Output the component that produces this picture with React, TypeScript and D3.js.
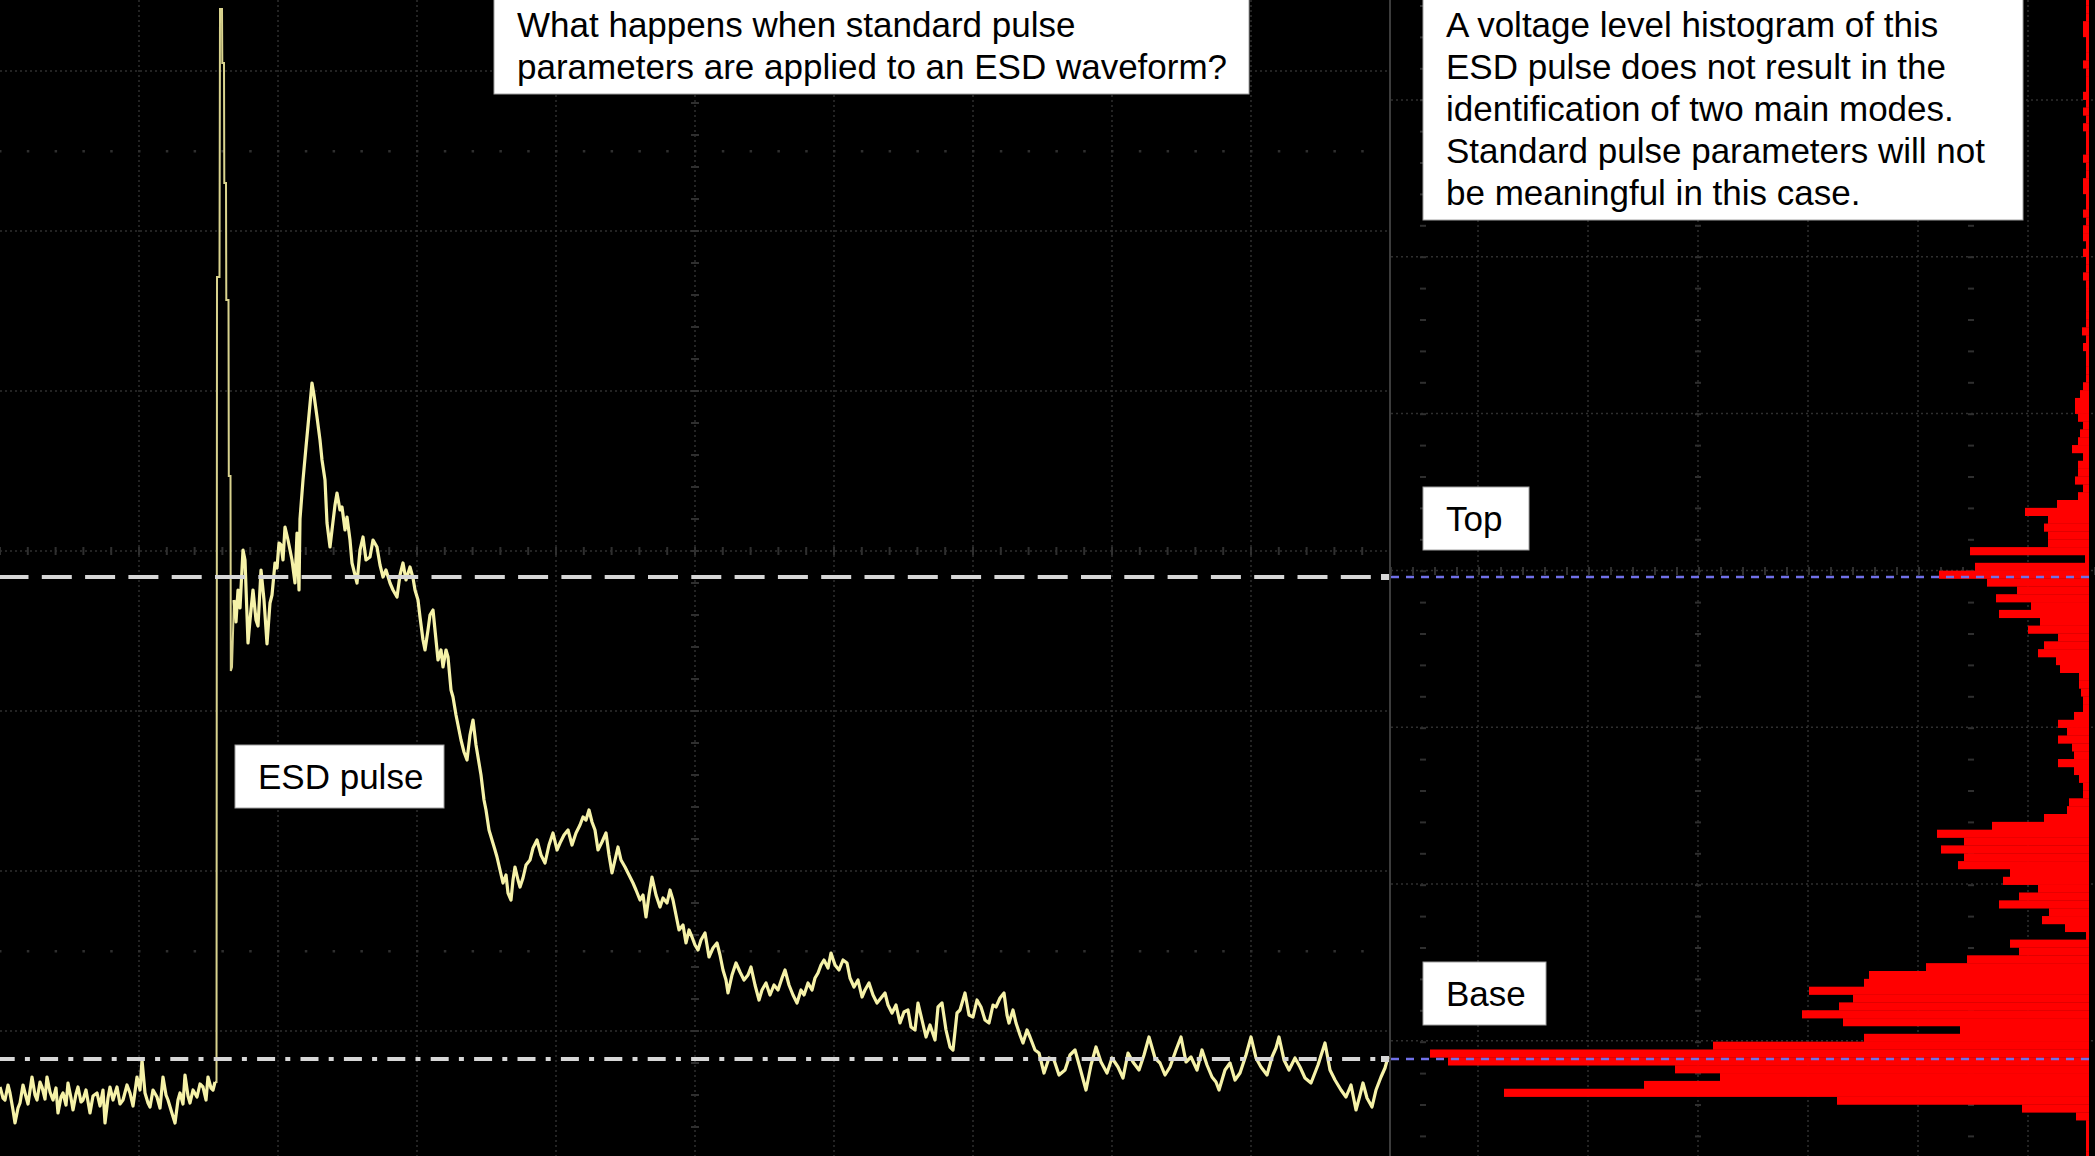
import React from 'react';
import * as d3 from 'd3';

const W = 2095;
const H = 1156;

// Trace: [time (ns), level (V, relative to base)]
const preTrigger: [number, number][] = [
  [0, -2.8], [0.3, -3.9], [0.5, -4.1], [0.8, -2.6], [1.0, -3.4], [1.3, -5.1], [1.5, -6.4], [1.8, -4.9],
  [2.0, -4.4], [2.3, -2.6], [2.5, -3.4], [2.8, -4.5], [3.2, -1.8], [3.5, -3.6], [3.7, -4.1], [4.0, -2.3],
  [4.2, -2.8], [4.5, -4.0], [4.7, -1.8], [5.0, -3.3], [5.3, -4.1], [5.6, -2.9], [5.8, -5.4], [6.1, -3.8],
  [6.3, -3.4], [6.6, -4.6], [6.8, -2.4], [7.1, -3.9], [7.3, -5.1], [7.6, -3.5], [7.8, -2.8], [8.1, -4.3],
  [8.3, -4.1], [8.6, -3.1], [9.0, -5.4], [9.3, -3.7], [9.7, -3.4], [10.0, -4.7], [10.3, -3.1], [10.5, -6.4],
  [10.8, -3.9], [11.0, -2.8], [11.3, -4.1], [11.7, -2.8], [12.0, -4.5], [12.3, -4.1], [12.7, -2.6], [13.0, -3.4],
  [13.3, -4.7], [13.7, -1.8], [14.0, -3.1], [14.2, -0.1], [14.5, -3.4], [14.8, -4.4], [15.0, -4.8], [15.3, -3.1],
  [15.7, -3.8], [16.0, -4.9], [16.3, -1.8], [16.6, -3.6], [16.8, -4.1], [17.1, -5.1], [17.5, -6.4], [17.8, -4.1],
  [18.0, -3.4], [18.3, -4.5], [18.5, -1.6], [18.8, -3.7], [19.0, -4.4], [19.3, -3.1], [19.7, -3.8], [20.0, -2.5],
  [20.3, -2.8], [20.6, -4.1], [20.8, -1.8], [21.1, -2.9], [21.3, -3.1], [21.5, -2.3],
];

const spike: [number, number][] = [
  [21.65, -2.3], [21.7, 78.2], [21.95, 78.2], [22.0, 105.0], [22.2, 105.0], [22.23, 99.6], [22.4, 99.6],
  [22.43, 87.6], [22.6, 87.6], [22.63, 75.9], [22.85, 75.9], [22.88, 58.3], [23.05, 58.3], [23.08, 38.8],
  [23.2, 39.2],
];

const decay: [number, number][] = [
  [23.4, 45.9], [23.6, 43.7], [23.8, 46.9], [24.0, 45.1], [24.3, 50.9], [24.5, 49.9], [24.8, 41.6], [25.0, 43.9],
  [25.3, 46.9], [25.6, 43.9], [25.8, 43.3], [26.1, 48.9], [26.4, 45.9], [26.7, 41.5], [27.0, 45.6], [27.2, 46.4],
  [27.5, 49.6], [27.7, 49.1], [27.9, 51.6], [28.1, 51.4], [28.3, 49.9], [28.5, 53.2], [28.8, 51.9], [29.0, 50.9],
  [29.2, 49.9], [29.5, 47.6], [29.7, 52.6], [29.9, 46.9], [30.0, 54.0], [30.3, 57.9], [30.6, 61.2], [30.9, 64.4],
  [31.2, 67.6], [31.4, 66.4], [31.7, 64.2], [32.0, 61.9], [32.2, 59.9], [32.5, 57.9], [32.7, 53.6], [33.0, 51.2],
  [33.2, 52.9], [33.5, 55.4], [33.7, 56.6], [34.0, 54.9], [34.2, 55.2], [34.5, 52.9], [34.7, 54.2], [35.0, 51.9],
  [35.2, 49.6], [35.5, 48.4], [35.7, 47.6], [36.0, 50.9], [36.3, 52.2], [36.6, 49.9], [37.0, 50.2], [37.3, 51.9],
  [37.7, 51.2], [38.0, 49.4], [38.3, 48.2], [38.6, 48.9], [39.0, 47.6], [39.3, 46.9], [39.7, 46.2], [40.0, 48.4],
  [40.3, 49.6], [40.6, 47.9], [41.0, 49.2], [41.3, 48.1], [41.5, 46.9], [41.8, 45.9], [42.0, 44.2], [42.3, 41.9],
  [42.5, 40.9], [42.8, 42.9], [43.0, 44.4], [43.3, 44.9], [43.6, 41.9], [43.8, 39.9], [44.1, 40.9], [44.3, 39.2],
  [44.6, 40.9], [44.8, 40.2], [45.1, 36.9], [45.3, 36.2], [45.6, 34.4], [45.9, 32.9], [46.1, 31.9], [46.4, 30.7],
  [46.7, 29.9], [47.0, 32.4], [47.3, 33.9], [47.6, 31.4], [47.8, 30.2], [48.1, 28.4], [48.4, 25.9], [48.6, 24.9],
  [48.9, 22.9], [49.2, 21.9], [49.5, 20.9], [49.7, 20.2], [50.0, 18.9], [50.3, 17.6], [50.6, 18.4], [50.8, 16.6],
  [51.1, 15.9], [51.3, 17.9], [51.5, 19.2], [51.8, 17.9], [52.0, 17.2], [52.3, 18.1], [52.6, 19.4], [53.0, 19.9],
  [53.3, 21.1], [53.7, 21.9], [54.1, 20.4], [54.5, 19.6], [54.9, 21.4], [55.3, 22.6], [55.7, 20.9], [56.0, 21.6],
  [56.4, 22.4], [56.8, 22.9], [57.2, 21.4], [57.6, 22.6], [58.0, 23.4], [58.3, 24.2], [58.6, 23.9], [58.9, 24.9],
  [59.2, 23.7], [59.5, 22.9], [59.8, 20.9], [60.2, 21.7], [60.6, 22.6], [60.9, 20.4], [61.2, 18.6], [61.5, 19.9],
  [61.8, 21.2], [62.1, 19.9], [62.5, 19.2], [62.9, 18.4], [63.3, 17.6], [63.6, 16.9], [64.0, 15.9], [64.3, 16.4],
  [64.6, 14.2], [64.9, 16.4], [65.2, 18.2], [65.6, 16.4], [66.0, 15.2], [66.3, 16.1], [66.7, 15.6], [67.0, 16.9],
  [67.3, 15.9], [67.6, 14.4], [67.9, 12.9], [68.3, 13.4], [68.6, 11.6], [68.9, 12.9], [69.2, 12.2], [69.5, 11.4],
  [69.8, 10.9], [70.1, 11.9], [70.5, 12.6], [70.7, 11.4], [70.9, 10.2], [71.3, 11.1], [71.7, 11.6], [72.0, 10.4],
  [72.3, 8.9], [72.6, 7.9], [72.8, 6.6], [73.2, 8.4], [73.6, 9.6], [74.0, 8.7], [74.4, 7.9], [74.8, 8.4],
  [75.1, 9.2], [75.5, 7.4], [75.9, 5.9], [76.2, 6.9], [76.6, 7.6], [77.0, 6.4], [77.4, 7.4], [77.8, 6.9],
];

const tail: [number, number][] = [
  [78.2, 8.1], [78.5, 8.9], [78.9, 7.4], [79.3, 6.4], [79.7, 5.6], [80.1, 6.9], [80.4, 6.4], [80.8, 7.6],
  [81.2, 6.9], [81.5, 8.1], [81.8, 8.6], [82.1, 9.4], [82.4, 9.9], [82.8, 9.1], [83.1, 10.6], [83.5, 9.4],
  [83.9, 8.9], [84.3, 9.9], [84.7, 9.6], [85.0, 8.1], [85.4, 7.2], [85.8, 7.9], [86.2, 6.2], [86.5, 6.9],
  [86.9, 7.6], [87.3, 6.4], [87.7, 5.6], [88.1, 6.1], [88.5, 6.6], [88.8, 5.4], [89.2, 4.6], [89.6, 5.4],
  [90.0, 3.6], [90.4, 4.7], [90.8, 4.9], [91.1, 3.2], [91.5, 2.9], [91.8, 5.6], [92.2, 3.9], [92.6, 2.2],
  [93.0, 3.4], [93.5, 1.9], [93.8, 5.2], [94.2, 5.6], [94.6, 2.9], [95.0, 1.2], [95.3, 0.9], [95.7, 4.6],
  [96.0, 4.9], [96.5, 6.6], [96.9, 4.4], [97.3, 4.2], [97.7, 5.9], [98.1, 5.2], [98.5, 3.9], [98.9, 3.6],
  [99.3, 5.4], [99.6, 5.2], [100.0, 6.1], [100.4, 6.6], [100.7, 4.4], [100.9, 3.6], [101.3, 4.9], [101.6, 3.6],
  [102.0, 2.4], [102.3, 1.6], [102.7, 2.9], [103.0, 2.2], [103.5, 0.9], [103.9, 0.6], [104.4, -1.4], [104.9, 0.1],
  [105.4, -0.1], [105.9, -1.6], [106.5, -1.1], [107.0, 0.4], [107.5, 0.9], [108.0, -0.9], [108.6, -3.1], [109.1, -0.6],
  [109.6, 1.2], [110.1, -0.3], [110.7, -1.4], [111.2, 0.1], [111.8, -0.8], [112.3, -1.9], [112.8, 0.6], [113.3, -0.3],
  [113.9, -1.1], [114.4, 0.4], [114.9, 2.2], [115.5, 0.1], [116.0, -0.4], [116.5, -1.6], [117.0, -0.8], [117.6, 0.9],
  [118.1, 2.2], [118.6, -0.3], [119.1, 0.2], [119.7, -1.1], [120.2, 0.9], [120.7, -0.6], [121.2, -1.8], [121.6, -2.3],
  [121.9, -3.1], [122.5, -1.1], [123.0, -0.4], [123.5, -2.1], [124.0, -1.4], [124.6, 0.4], [125.1, 2.2], [125.6, 0.1],
  [126.1, -0.8], [126.7, -1.6], [127.2, 0.2], [127.6, 1.1], [127.9, 2.2], [128.4, -0.1], [128.9, -1.1], [129.5, 0.1],
  [130.0, -0.8], [130.5, -1.9], [131.1, -2.4], [131.8, -0.6], [132.5, 1.6], [133.0, -1.1], [133.5, -2.1], [134.1, -3.1],
  [134.6, -3.8], [135.1, -2.6], [135.6, -5.1], [136.0, -3.6], [136.3, -2.4], [136.7, -3.9], [137.2, -4.8], [137.6, -3.1],
  [138.1, -1.8], [138.5, -0.9], [138.8, 0.2],
];

// Voltage-level histogram (hits per bin), bins from the top level downward
const histTopLevel = 106.14;
const histBinWidth = 0.785;
const histCounts = [
  3, 3, 3, 6, 6, 3, 3, 3, 6, 3,
  3, 3, 6, 3, 6, 3, 6, 3, 3, 3,
  6, 3, 3, 6, 6, 3, 3, 6, 3, 6,
  6, 3, 6, 3, 3, 6, 3, 3, 3, 3,
  3, 3, 7, 3, 6, 3, 3, 3, 3, 6,
  9, 14, 14, 11, 6, 9, 11, 17, 6, 11,
  11, 14, 6, 11,
  32, 64, 41, 45, 41, 41, 119, 4, 114, 150,
  102, 72, 93, 58, 90, 49, 61, 31, 45, 51,
  33, 29, 10, 10, 8, 6, 6, 15, 31, 22,
  31, 17, 15, 31, 15, 10, 6, 6, 20, 22,
  45, 97, 152, 125, 148, 125, 131, 79, 86, 51,
  70, 90, 40, 47, 24, 3, 79, 70, 122, 163,
  220, 225, 280, 236, 250, 287, 246, 129, 225, 376,
  659, 641, 414, 369, 445, 585, 252, 67, 13, 3,
  3, 3, 3, 3,
];

const topLevel = 48.2;
const baseLevel = 0;

const titleLines = ['What happens when standard pulse', 'parameters are applied to an ESD waveform?'];
const noteLines = [
  'A voltage level histogram of this',
  'ESD pulse does not result in the',
  'identification of two main modes.',
  'Standard pulse parameters will not',
  'be meaningful in this case.',
];
const pulseLabel = 'ESD pulse';
const topLabel = 'Top';
const baseLabel = 'Base';

const FONT = '"Liberation Sans", Arial, Helvetica, sans-serif';
const GRID = '#2f2f2f';
const TRACE = '#f6f2a8';

function TextBox({ x, y, w, h, lines, lineH = 42, base }: any) {
  return (
    <g>
      <rect x={x} y={y} width={w} height={h} fill="#ffffff" stroke="#a0a0a0" strokeWidth={1} />
      {lines.map((l: string, i: number) => (
        <text key={i} x={x + 23} y={base + i * lineH} fontFamily={FONT} fontSize={35} fill="#000">
          {l}
        </text>
      ))}
    </g>
  );
}

export default function App() {
  const xLeftEnd = 1389;
  const x = d3.scaleLinear().domain([0, 138.9]).range([0, xLeftEnd]);
  const y = d3.scaleLinear().domain([-9.7, 105.9]).range([H, 0]);
  const c = d3.scaleLinear().domain([0, 700]).range([2089, 1389]);

  const lineGen = d3.line<[number, number]>().x((d) => x(d[0])).y((d) => y(d[1]));
  const prePath = lineGen(preTrigger) || '';
  const spikePath = lineGen([preTrigger[preTrigger.length - 1], ...spike, decay[0]]) || '';
  const postPath = lineGen([...decay, ...tail]) || '';

  // grid layout
  const leftV = d3.range(1, 10).map((i) => i * 139);
  const leftH = d3.range(0, 7).map((j) => 71 + j * 160);
  const rightV = d3.range(0, 6).map((i) => 1478 + i * 110);
  const rightH = d3.range(0, 7).map((j) => 100 + j * 156.8);

  const gridEls: any[] = [];
  leftV.forEach((gx, i) =>
    gridEls.push(<line key={'lv' + i} x1={gx} x2={gx} y1={0} y2={H} stroke={GRID} strokeWidth={1.5} strokeDasharray="2 3" />)
  );
  leftH.forEach((gy, i) =>
    gridEls.push(<line key={'lh' + i} x1={0} x2={xLeftEnd} y1={gy} y2={gy} stroke={GRID} strokeWidth={1.5} strokeDasharray="2 3" />)
  );
  d3.range(0, 50).forEach((i) => {
    const tx = i * 27.8;
    gridEls.push(<line key={'ct' + i} x1={tx} x2={tx} y1={547} y2={555} stroke={GRID} strokeWidth={2} />);
    gridEls.push(<rect key={'r1' + i} x={tx - 1} y={150} width={2.5} height={2.5} fill={GRID} />);
    gridEls.push(<rect key={'r2' + i} x={tx - 1} y={950} width={2.5} height={2.5} fill={GRID} />);
  });
  d3.range(0, 37).forEach((i) => {
    const ty = 7 + i * 32;
    gridEls.push(<line key={'vt' + i} x1={691} x2={699} y1={ty} y2={ty} stroke={GRID} strokeWidth={2} />);
  });
  rightV.forEach((gx, i) =>
    gridEls.push(<line key={'rv' + i} x1={gx} x2={gx} y1={0} y2={H} stroke={GRID} strokeWidth={1.5} strokeDasharray="2 3" />)
  );
  rightH.forEach((gy, i) =>
    gridEls.push(<line key={'rh' + i} x1={1391} x2={W} y1={gy} y2={gy} stroke={GRID} strokeWidth={1.5} strokeDasharray="2 3" />)
  );
  d3.range(0, 37).forEach((i) => {
    const ty = 6 + i * 31.4;
    [1423, 1698, 1971].forEach((cx, k) =>
      gridEls.push(<line key={'rt' + i + '_' + k} x1={cx - 3} x2={cx + 3} y1={ty} y2={ty} stroke={GRID} strokeWidth={2} />)
    );
  });
  d3.range(0, 33).forEach((i) => {
    const tx = 1391 + i * 22;
    gridEls.push(<line key={'rht' + i} x1={tx} x2={tx} y1={567} y2={575} stroke={GRID} strokeWidth={2} />);
  });

  const bars = histCounts.map((n, i) => {
    const top = histTopLevel - i * histBinWidth;
    const y0 = y(top);
    const y1 = y(top - histBinWidth);
    return <rect key={'b' + i} x={c(n)} y={y0} width={c(0) - c(n)} height={y1 - y0 + 0.3} fill="#ff0000" />;
  });

  return (
    <div style={{ position: 'fixed', left: 0, top: 0, width: W, height: H, background: '#000' }}>
      <svg width={W} height={H} viewBox={`0 0 ${W} ${H}`} style={{ display: 'block' }}>
        <rect x={0} y={0} width={W} height={H} fill="#000" />
        {gridEls}
        <line x1={xLeftEnd + 1} x2={xLeftEnd + 1} y1={0} y2={H} stroke="#3c3c3c" strokeWidth={2} />
        {bars}
        <path d={spikePath} fill="none" stroke="#d9d38e" strokeWidth={2} strokeLinejoin="miter" />
        <path d={prePath} fill="none" stroke={TRACE} strokeWidth={3.2} strokeLinejoin="round" />
        <path d={postPath} fill="none" stroke={TRACE} strokeWidth={3.2} strokeLinejoin="round" />
        <line x1={0} x2={xLeftEnd} y1={y(topLevel)} y2={y(topLevel)} stroke="#d6d6d6" strokeWidth={4} strokeDasharray="30 13.3" strokeDashoffset={1.5} />
        <line x1={0} x2={xLeftEnd} y1={y(baseLevel)} y2={y(baseLevel)} stroke="#d6d6d6" strokeWidth={4} strokeDasharray="18 10.2 5 10.2" strokeDashoffset={3.3} />
        <rect x={xLeftEnd - 8} y={y(topLevel) - 3} width={8} height={6} fill="#d6d6d6" />
        <rect x={xLeftEnd - 8} y={y(baseLevel) - 3} width={8} height={6} fill="#d6d6d6" />
        <line x1={xLeftEnd + 2} x2={W} y1={y(topLevel)} y2={y(topLevel)} stroke="#7070e8" strokeWidth={2.5} strokeDasharray="8 7" />
        <line x1={xLeftEnd + 2} x2={W} y1={y(baseLevel)} y2={y(baseLevel)} stroke="#7070e8" strokeWidth={2.5} strokeDasharray="8 7" />
        <TextBox x={494} y={-2} w={755} h={96} lines={titleLines} base={37} />
        <TextBox x={1423} y={-2} w={600} h={222} lines={noteLines} base={37} />
        <TextBox x={235} y={745} w={209} h={63} lines={[pulseLabel]} base={789} />
        <TextBox x={1423} y={487} w={106} h={63} lines={[topLabel]} base={531} />
        <TextBox x={1423} y={962} w={123} h={63} lines={[baseLabel]} base={1006} />
      </svg>
    </div>
  );
}
